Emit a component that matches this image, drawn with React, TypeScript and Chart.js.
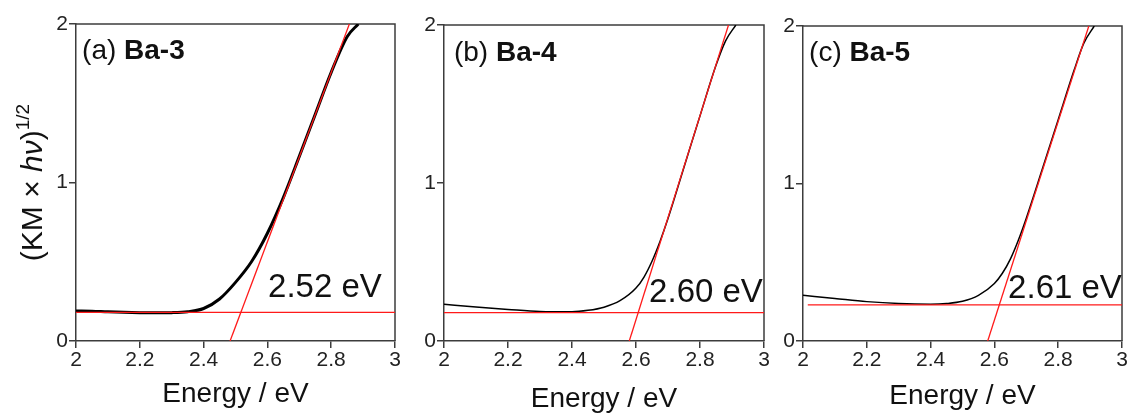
import React, { useEffect, useRef } from 'react';
import { Chart, registerables } from 'chart.js';

Chart.register(...registerables);

const FONT = "'Liberation Sans', Arial, Helvetica, sans-serif";

// ---- ticks ----
const xTickValues = [2, 2.2, 2.4, 2.6, 2.8, 3];
const xTickLabels = ['2', '2.2', '2.4', '2.6', '2.8', '3'];
const yTickValues = [0, 1, 2];
const yTickLabels = ['0', '1', '2'];

// ---- panel texts ----
const panelTags = ['(a)', '(b)', '(c)'];
const sampleNames = ['Ba-3', 'Ba-4', 'Ba-5'];
const gapLabels = ['2.52 eV', '2.60 eV', '2.61 eV'];
const gapLabelX = [2.602, 2.641, 2.643];
const gapLabelY = [0.278, 0.247, 0.273];
const tagX = [2.019, 2.031, 2.019];
const tagY = [1.78, 1.77, 1.78];

// ---- measured curves (KM x hv)^1/2 ----
const energyA = [2.0, 2.05, 2.1, 2.15, 2.2, 2.25, 2.3, 2.35, 2.4, 2.45, 2.5, 2.55, 2.6, 2.65, 2.7, 2.75, 2.8, 2.85, 2.885];
const kmA = [0.19, 0.188, 0.184, 0.181, 0.179, 0.178, 0.179, 0.185, 0.205, 0.265, 0.37, 0.5, 0.68, 0.905, 1.165, 1.43, 1.695, 1.92, 2.0];

const energyB = [2.0, 2.1, 2.2, 2.3, 2.4, 2.45, 2.5, 2.55, 2.6, 2.625, 2.65, 2.675, 2.7, 2.75, 2.8, 2.85, 2.88, 2.912];
const kmB = [0.232, 0.215, 0.2, 0.187, 0.185, 0.194, 0.214, 0.255, 0.335, 0.405, 0.505, 0.63, 0.775, 1.1, 1.425, 1.745, 1.9, 2.0];

const energyC = [2.0, 2.1, 2.2, 2.3, 2.4, 2.45, 2.5, 2.55, 2.6, 2.625, 2.65, 2.675, 2.7, 2.75, 2.8, 2.85, 2.88, 2.913];
const kmC = [0.29, 0.27, 0.25, 0.238, 0.234, 0.238, 0.252, 0.29, 0.365, 0.43, 0.52, 0.64, 0.78, 1.09, 1.405, 1.72, 1.89, 2.0];

// ---- red fit lines ----
const baseXA = [2, 3];
const baseYA = [0.181, 0.181];
const slopeXA = [2.483, 2.857];
const slopeYA = [0, 2];

const baseXB = [2, 3];
const baseYB = [0.179, 0.179];
const slopeXB = [2.579, 2.889];
const slopeYB = [0, 2];

const baseXC = [2.015, 3.005];
const baseYC = [0.23, 0.23];
const slopeXC = [2.579, 2.896];
const slopeYC = [0, 2];

const zip = (xs: number[], ys: number[]) => xs.map((x, i) => ({ x, y: ys[i] }));

interface PanelCfg {
  idx: number;
  left: number;
  width: number;
  axisW: number;
  padRight: number;
  padTop: number;
  titlePad: number;
  curveWidth: number;
  energy: number[];
  km: number[];
  baseX: number[];
  baseY: number[];
  slopeX: number[];
  slopeY: number[];
  yTitle: boolean;
}

const panels: PanelCfg[] = [
  { idx: 0, left: 0, width: 410, axisW: 76, padRight: 15, padTop: 24, titlePad: 5.7, curveWidth: 3, energy: energyA, km: kmA, baseX: baseXA, baseY: baseYA, slopeX: slopeXA, slopeY: slopeYA, yTitle: true },
  { idx: 1, left: 400, width: 380, axisW: 44, padRight: 16, padTop: 25, titlePad: 0.7, curveWidth: 1.5, energy: energyB, km: kmB, baseX: baseXB, baseY: baseYB, slopeX: slopeXB, slopeY: slopeYB, yTitle: false },
  { idx: 2, left: 770, width: 361, axisW: 33, padRight: 9, padTop: 26, titlePad: 3.7, curveWidth: 1.5, energy: energyC, km: kmC, baseX: baseXC, baseY: baseYC, slopeX: slopeXC, slopeY: slopeYC, yTitle: false },
];

const AXIS_COLOR = '#3c3c3c';
const TEXT_COLOR = '#111111';

function drawYTitle(ctx: CanvasRenderingContext2D, baselineX: number, centerY: number) {
  const size = 30;
  const segs = [
    { t: '(KM \u00d7 ', font: `${size}px ${FONT}`, dy: 0 },
    { t: 'h\u03bd', font: `italic ${size}px ${FONT}`, dy: 0 },
    { t: ')', font: `${size}px ${FONT}`, dy: 0 },
    { t: '1/2', font: `${Math.round(size * 0.62)}px ${FONT}`, dy: -size * 0.42 },
  ];
  let total = 0;
  const widths: number[] = [];
  for (const s of segs) {
    ctx.font = s.font;
    const w = ctx.measureText(s.t).width;
    widths.push(w);
    total += w;
  }
  ctx.save();
  ctx.translate(baselineX, centerY + total / 2);
  ctx.rotate(-Math.PI / 2);
  ctx.fillStyle = TEXT_COLOR;
  ctx.textBaseline = 'alphabetic';
  ctx.textAlign = 'left';
  let x = 0;
  segs.forEach((s, i) => {
    ctx.font = s.font;
    ctx.fillText(s.t, x, s.dy);
    x += widths[i];
  });
  ctx.restore();
}

function Panel({ cfg }: { cfg: PanelCfg }) {
  const ref = useRef<HTMLCanvasElement | null>(null);

  useEffect(() => {
    if (!ref.current) return;
    const decor = {
      id: 'decor' + cfg.idx,
      beforeDatasetsDraw(chart: any) {
        const { ctx, chartArea } = chart;
        ctx.save();
        ctx.strokeStyle = AXIS_COLOR;
        ctx.lineWidth = 1.5;
        ctx.beginPath();
        ctx.moveTo(chartArea.left, chartArea.top);
        ctx.lineTo(chartArea.right, chartArea.top);
        ctx.lineTo(chartArea.right, chartArea.bottom);
        ctx.stroke();
        ctx.restore();
      },
      afterDatasetsDraw(chart: any) {
        const { ctx, chartArea, scales } = chart;
        const xs = scales.x;
        const ys = scales.y;
        ctx.save();
        ctx.fillStyle = TEXT_COLOR;
        ctx.textBaseline = 'alphabetic';
        ctx.textAlign = 'left';
        // panel tag
        const tx = xs.getPixelForValue(tagX[cfg.idx]);
        const ty = ys.getPixelForValue(tagY[cfg.idx]);
        ctx.font = `28px ${FONT}`;
        const tag = panelTags[cfg.idx] + ' ';
        ctx.fillText(tag, tx, ty);
        const tw = ctx.measureText(tag).width;
        ctx.font = `bold 28px ${FONT}`;
        ctx.fillText(sampleNames[cfg.idx], tx + tw, ty);
        // gap label
        ctx.font = `33px ${FONT}`;
        ctx.fillText(gapLabels[cfg.idx], xs.getPixelForValue(gapLabelX[cfg.idx]), ys.getPixelForValue(gapLabelY[cfg.idx]));
        ctx.restore();
        if (cfg.yTitle) {
          drawYTitle(ctx, chartArea.left - 34, (chartArea.top + chartArea.bottom) / 2);
        }
      },
    };

    const chart = new Chart(ref.current, {
      type: 'line',
      data: {
        datasets: [
          {
            label: 'baseline fit',
            data: zip(cfg.baseX, cfg.baseY),
            borderColor: '#ff1a1a',
            borderWidth: 1.3,
            pointRadius: 0,
            fill: false,
          },
          {
            label: 'edge fit',
            data: zip(cfg.slopeX, cfg.slopeY),
            borderColor: '#ff1a1a',
            borderWidth: 1.3,
            pointRadius: 0,
            fill: false,
          },
          {
            label: sampleNames[cfg.idx],
            data: zip(cfg.energy, cfg.km),
            borderColor: '#000000',
            borderWidth: cfg.curveWidth,
            pointRadius: 0,
            fill: false,
            cubicInterpolationMode: 'monotone',
          },
        ],
      },
      options: {
        animation: false,
        responsive: false,
        maintainAspectRatio: false,
        events: [],
        layout: { padding: { left: 0, right: cfg.padRight, top: cfg.padTop, bottom: 0 } },
        plugins: { legend: { display: false }, tooltip: { enabled: false }, title: { display: false } },
        scales: {
          x: {
            type: 'linear',
            min: 2,
            max: 3,
            afterBuildTicks: (s: any) => {
              s.ticks = xTickValues.map((v) => ({ value: v }));
            },
            afterFit: (s: any) => {
              s.height = 73;
            },
            ticks: {
              callback: (v: any) => {
                const i = xTickValues.findIndex((t) => Math.abs(t - Number(v)) < 1e-6);
                return i >= 0 ? xTickLabels[i] : '';
              },
              font: { family: FONT, size: 21 },
              color: '#222222',
              padding: 0,
              maxRotation: 0,
              autoSkip: false,
            },
            grid: { drawOnChartArea: false, drawTicks: true, tickLength: 7, color: AXIS_COLOR, lineWidth: 1.5 },
            border: { display: true, color: AXIS_COLOR, width: 1.5 },
            title: {
              display: true,
              text: 'Energy / eV',
              font: { family: FONT, size: 28, lineHeight: 1.0 },
              color: TEXT_COLOR,
              padding: { top: 0, bottom: cfg.titlePad },
            },
          },
          y: {
            type: 'linear',
            min: 0,
            max: 2,
            afterBuildTicks: (s: any) => {
              s.ticks = yTickValues.map((v) => ({ value: v }));
            },
            afterFit: (s: any) => {
              s.width = cfg.axisW;
            },
            ticks: {
              callback: (v: any) => {
                const i = yTickValues.findIndex((t) => Math.abs(t - Number(v)) < 1e-6);
                return i >= 0 ? yTickLabels[i] : '';
              },
              font: { family: FONT, size: 21 },
              color: '#222222',
              padding: 1,
              autoSkip: false,
            },
            grid: { drawOnChartArea: false, drawTicks: true, tickLength: 7, color: AXIS_COLOR, lineWidth: 1.5 },
            border: { display: true, color: AXIS_COLOR, width: 1.5 },
          },
        },
      },
      plugins: [decor],
    } as any);

    return () => chart.destroy();
  }, [cfg]);

  return (
    <canvas
      ref={ref}
      width={cfg.width}
      height={414}
      style={{ position: 'absolute', left: cfg.left, top: 0, width: cfg.width, height: 414 }}
    />
  );
}

export default function App() {
  return (
    <div style={{ position: 'absolute', left: 0, top: 0, width: 1131, height: 414, background: '#ffffff', overflow: 'hidden' }}>
      {panels.map((p) => (
        <Panel key={p.idx} cfg={p} />
      ))}
    </div>
  );
}
